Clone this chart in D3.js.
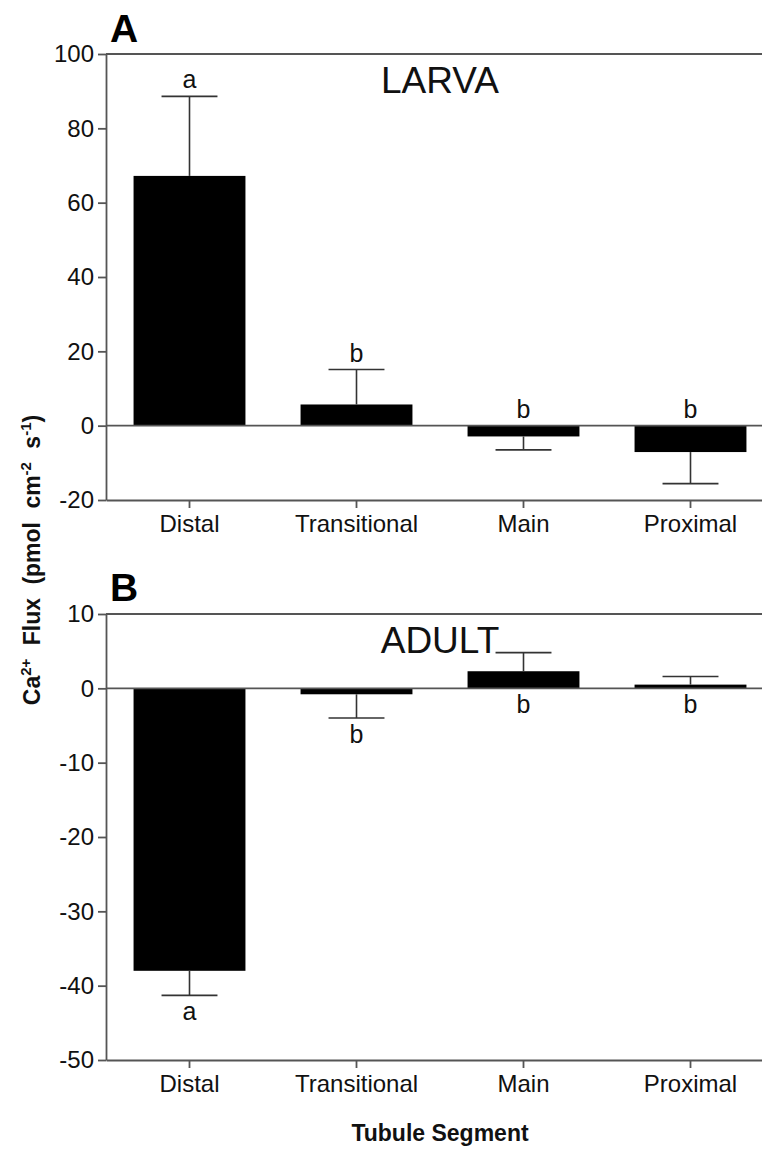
<!DOCTYPE html>
<html>
<head>
<meta charset="utf-8">
<script src="https://cdn.jsdelivr.net/npm/d3@7"></script>
<style>
  body { margin: 0; background: #fff; }
  svg { display: block; font-family: "Liberation Sans", Arial, sans-serif; }
  .axis path, .axis line { stroke: #555; stroke-width: 1.8; }
  .axis text { fill: #111; font-size: 24px; }
</style>
</head>
<body>
<svg id="chart" width="762" height="1149"></svg>
<script>
//data
const segments = ['Distal', 'Transitional', 'Main', 'Proximal'];

const larvaMean = [67.2, 5.7, -2.9, -7.1];
const larvaErr = [21.4, 9.4, 3.6, 8.5];
const larvaLetters = ['a', 'b', 'b', 'b'];
const larvaTicks = [-20, 0, 20, 40, 60, 80, 100];

const adultMean = [-38.0, -0.8, 2.3, 0.5];
const adultErr = [3.3, 3.2, 2.5, 1.1];
const adultLetters = ['a', 'b', 'b', 'b'];
const adultTicks = [-50, -40, -30, -20, -10, 0, 10];

//layout
const svg = d3.select('#chart');
const X0 = 106, X1 = 774;

const x = d3.scaleBand()
  .domain(segments)
  .range([X0, X1])
  .paddingInner(0.33)
  .paddingOuter(0.165);

function panel(opts) {
  const { top, bottom, ticks, means, errs, letters, letterAbove, name, tag, tagBase } = opts;
  const y = d3.scaleLinear()
    .domain(d3.extent(ticks))
    .range([bottom, top]);

  const g = svg.append('g');

  // top frame line
  g.append('line')
    .attr('x1', X0).attr('x2', X1)
    .attr('y1', y(ticks[ticks.length - 1])).attr('y2', y(ticks[ticks.length - 1]))
    .attr('stroke', '#555').attr('stroke-width', 1.8);

  // bars
  g.selectAll('.bar')
    .data(segments)
    .join('rect')
    .attr('class', 'bar')
    .attr('x', d => x(d))
    .attr('width', x.bandwidth())
    .attr('y', (d, i) => y(Math.max(0, means[i])))
    .attr('height', (d, i) => Math.abs(y(means[i]) - y(0)))
    .attr('fill', '#000');

  // error bars (one-sided, away from zero)
  const eb = g.selectAll('.err')
    .data(segments)
    .join('g')
    .attr('class', 'err')
    .attr('stroke', '#333')
    .attr('stroke-width', 1.6);

  const tipOf = i => means[i] + Math.sign(means[i]) * errs[i];
  const cx = d => x(d) + x.bandwidth() / 2;

  eb.append('line')
    .attr('x1', cx).attr('x2', cx)
    .attr('y1', (d, i) => y(means[i]))
    .attr('y2', (d, i) => y(tipOf(i)));
  eb.append('line')
    .attr('x1', d => cx(d) - x.bandwidth() / 4)
    .attr('x2', d => cx(d) + x.bandwidth() / 4)
    .attr('y1', (d, i) => y(tipOf(i)))
    .attr('y2', (d, i) => y(tipOf(i)));

  // zero line
  g.append('line')
    .attr('x1', X0).attr('x2', X1)
    .attr('y1', y(0)).attr('y2', y(0))
    .attr('stroke', '#555').attr('stroke-width', 1.8);

  // significance letters
  g.selectAll('.sig')
    .data(segments)
    .join('text')
    .attr('class', 'sig')
    .attr('x', cx)
    .attr('y', (d, i) => letterAbove
      ? y(Math.max(0, tipOf(i))) - 8
      : y(Math.min(0, tipOf(i))) + 25)
    .attr('text-anchor', 'middle')
    .attr('font-size', 25)
    .attr('fill', '#111')
    .text((d, i) => letters[i]);

  // axes
  g.append('g')
    .attr('class', 'axis')
    .attr('transform', `translate(${X0},0)`)
    .call(d3.axisLeft(y).tickValues(ticks).tickFormat(d => String(d))
      .tickSize(8).tickSizeOuter(0).tickPadding(4));

  g.append('g')
    .attr('class', 'axis')
    .attr('transform', `translate(0,${bottom})`)
    .call(d3.axisBottom(x).tickSize(8).tickSizeOuter(0).tickPadding(7));

  // panel title + tag
  g.append('text')
    .attr('x', (X0 + X1) / 2)
    .attr('y', top + 39)
    .attr('text-anchor', 'middle')
    .attr('font-size', 37)
    .attr('fill', '#111')
    .text(name);

  g.append('text')
    .attr('x', 110)
    .attr('y', tagBase)
    .attr('font-size', 39)
    .attr('font-weight', 'bold')
    .attr('fill', '#000')
    .text(tag);
}

panel({
  top: 54, bottom: 500, ticks: larvaTicks,
  means: larvaMean, errs: larvaErr, letters: larvaLetters, letterAbove: true,
  name: 'LARVA', tag: 'A', tagBase: 42
});

panel({
  top: 614, bottom: 1060, ticks: adultTicks,
  means: adultMean, errs: adultErr, letters: adultLetters, letterAbove: false,
  name: 'ADULT', tag: 'B', tagBase: 601
});

// y title
const yt = svg.append('text')
  .attr('transform', 'translate(40,560) rotate(-90)')
  .attr('text-anchor', 'middle')
  .attr('font-size', 23)
  .attr('font-weight', 'bold')
  .attr('word-spacing', 7)
  .attr('fill', '#111');
yt.append('tspan').text('Ca');
yt.append('tspan').attr('dy', -9).attr('font-size', 15).text('2+');
yt.append('tspan').attr('dy', 9).text(' Flux (pmol cm');
yt.append('tspan').attr('dy', -9).attr('font-size', 15).text('-2');
yt.append('tspan').attr('dy', 9).text(' s');
yt.append('tspan').attr('dy', -9).attr('font-size', 15).text('-1');
yt.append('tspan').attr('dy', 9).text(')');

// x title
svg.append('text')
  .attr('x', (X0 + X1) / 2)
  .attr('y', 1141)
  .attr('text-anchor', 'middle')
  .attr('font-size', 23)
  .attr('font-weight', 'bold')
  .attr('fill', '#111')
  .text('Tubule Segment');
</script>
</body>
</html>
